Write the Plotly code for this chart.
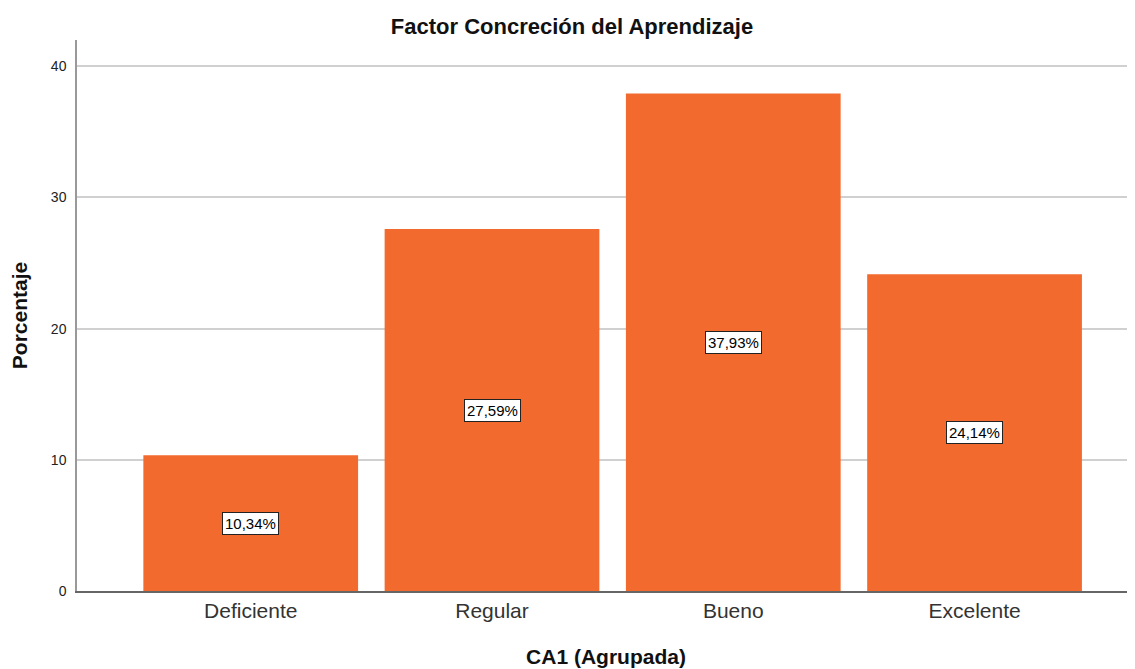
import plotly.graph_objects as go

categories = ["Deficiente", "Regular", "Bueno", "Excelente"]
values = [10.34, 27.59, 37.93, 24.14]
y_ticks = [0, 10, 20, 30, 40]

bar_color = "#F26A2E"
FONT = "Liberation Sans, Arial"

fig = go.Figure()
fig.add_trace(go.Bar(
    x=list(range(len(categories))),
    y=values,
    marker=dict(color=bar_color, line=dict(width=0)),
    width=0.89,
    hoverinfo="skip",
))

for i, v in enumerate(values):
    fig.add_annotation(
        x=i, y=v / 2, xref="x", yref="y",
        text=f"{v:.2f}%".replace(".", ","),
        showarrow=False,
        font=dict(family=FONT, size=15, color="#000"),
        bgcolor="white", bordercolor="#222", borderwidth=1, borderpad=2,
    )

W, H = 1127, 661
fig.update_layout(
    width=W, height=H,
    margin=dict(l=69, r=0, t=32, b=78),
    paper_bgcolor="white", plot_bgcolor="white",
    showlegend=False,
    font=dict(family=FONT, color="#222"),
    title=dict(
        text="<b>Factor Concreción del Aprendizaje</b>",
        x=564 / W, xref="container", xanchor="center",
        y=1 - 18 / H, yref="container", yanchor="middle",
        font=dict(size=22, color="#111"),
    ),
    xaxis=dict(
        range=[-0.72, 3.665],
        tickmode="array", tickvals=list(range(len(categories))), ticktext=categories,
        tickfont=dict(size=21, color="#333"),
        showgrid=False, zeroline=False,
        showline=True, linecolor="#666", linewidth=1.5,
        ticks="", ticklen=0,
        title=dict(text="<b>CA1 (Agrupada)</b>", font=dict(size=21, color="#111"), standoff=28),
    ),
    yaxis=dict(
        range=[0, 42],
        tickmode="array", tickvals=y_ticks,
        tickfont=dict(size=14, color="#222"),
        showgrid=True, gridcolor="#d0d0d0", gridwidth=1.5,
        zeroline=False,
        showline=True, linecolor="#999", linewidth=1.5,
        ticks="outside", ticklen=6, tickcolor="white",
        title=dict(text="<b>Porcentaje</b>", font=dict(size=21, color="#111"), standoff=18),
    ),
)

fig.write_html("out.html")
